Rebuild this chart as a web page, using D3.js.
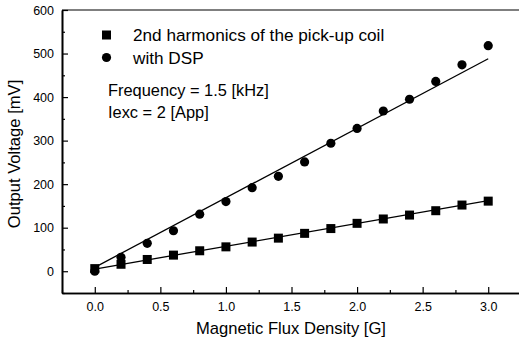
<!DOCTYPE html>
<html><head><meta charset="utf-8">
<script src="https://cdn.jsdelivr.net/npm/d3@7"></script>
<style>body{margin:0;background:#fff}svg{display:block}text{font-family:"Liberation Sans",Arial,sans-serif}</style>
</head><body><svg id="c" width="519" height="341"></svg>
<script>
const fluxX = [0,0.2,0.4,0.6,0.8,1.0,1.2,1.4,1.6,1.8,2.0,2.2,2.4,2.6,2.8,3.0];
const harmonicsY = [6,16,27,37,47,56,67,76,87,98,110,120,129,139,152,161];
const dspY = [0,32,64,93,131,160,192,218,251,294,328,368,395,436,474,518];
const fitX = [0,3.0];
const fitHarmonicsY = [5,162];
const fitDspY = [9,488];
const xTicks = [0,0.5,1.0,1.5,2.0,2.5,3.0];
const xMinor = [-0.25,0.25,0.75,1.25,1.75,2.25,2.75,3.25];
const yTicks = [0,100,200,300,400,500,600];
const yMinor = [-50,50,150,250,350,450,550];
const legendLabels = ["2nd harmonics of the pick-up coil","with DSP"];
const notes = ["Frequency = 1.5 [kHz]","Iexc = 2 [App]"];

const svg = d3.select("#c");
const x = d3.scaleLinear().domain([-0.25,3.25]).range([62,521]);
const y = d3.scaleLinear().domain([-50,600]).range([293,10]);

// frame
svg.append("line").attr("x1",x(-0.25)).attr("x2",x(3.25)).attr("y1",y(600)).attr("y2",y(600)).attr("stroke","#000").attr("stroke-width",1.2);

svg.append("g").attr("transform",`translate(0,${y(-50)})`)
  .call(d3.axisBottom(x).tickValues(xTicks).tickFormat(d3.format(".1f")).tickSizeInner(-6).tickSizeOuter(0).tickPadding(9));
svg.append("g").attr("transform",`translate(0,${y(-50)})`)
  .call(d3.axisBottom(x).tickValues(xMinor).tickFormat("").tickSizeInner(-3).tickSizeOuter(0));
svg.append("g").attr("transform",`translate(${x(-0.25)},0)`)
  .call(d3.axisLeft(y).tickValues(yTicks).tickSizeInner(-6).tickSizeOuter(0).tickPadding(8));
svg.append("g").attr("transform",`translate(${x(-0.25)},0)`)
  .call(d3.axisLeft(y).tickValues(yMinor).tickFormat("").tickSizeInner(-3).tickSizeOuter(0));
svg.selectAll(".domain").attr("stroke-width",1.6);
svg.selectAll(".tick line").attr("stroke-width",1.2);
svg.selectAll(".tick text").attr("font-size",12.5).attr("fill","#000").attr("font-family","Liberation Sans, Arial, sans-serif");

// fit lines
const line = d3.line().x(d=>x(d[0])).y(d=>y(d[1]));
svg.append("path").attr("d",line(fitX.map((v,i)=>[v,fitHarmonicsY[i]]))).attr("stroke","#000").attr("stroke-width",1.3).attr("fill","none");
svg.append("path").attr("d",line(fitX.map((v,i)=>[v,fitDspY[i]]))).attr("stroke","#000").attr("stroke-width",1.3).attr("fill","none");

// markers
const s = 9;
svg.append("g").selectAll("rect").data(fluxX).join("rect")
  .attr("x",(d)=>x(d)-s/2).attr("y",(d,i)=>y(harmonicsY[i])-s/2).attr("width",s).attr("height",s).attr("fill","#000");
svg.append("g").selectAll("circle").data(fluxX).join("circle")
  .attr("cx",d=>x(d)).attr("cy",(d,i)=>y(dspY[i])).attr("r",4.6).attr("fill","#000");

// legend
const lg = svg.append("g");
lg.append("rect").attr("x",102).attr("y",30.5).attr("width",9).attr("height",9).attr("fill","#000");
lg.append("circle").attr("cx",106.5).attr("cy",57.5).attr("r",4.6).attr("fill","#000");
lg.selectAll("text.l").data(legendLabels).join("text").attr("class","l")
  .attr("x",133).attr("y",(d,i)=>35+i*22.5).attr("dy","0.36em").attr("font-size",17.2).text(d=>d);
lg.selectAll("text.n").data(notes).join("text").attr("class","n")
  .attr("x",108).attr("y",(d,i)=>90+i*22).attr("dy","0.36em").attr("font-size",16.4).text(d=>d);

// axis titles
svg.append("text").attr("x",291).attr("y",328).attr("dy","0.36em").attr("text-anchor","middle")
  .attr("font-size",16.6).text("Magnetic Flux Density [G]");
svg.append("text").attr("transform",`translate(14,154) rotate(-90)`).attr("dy","0.36em").attr("text-anchor","middle")
  .attr("font-size",16.6).text("Output Voltage [mV]");
</script></body></html>
